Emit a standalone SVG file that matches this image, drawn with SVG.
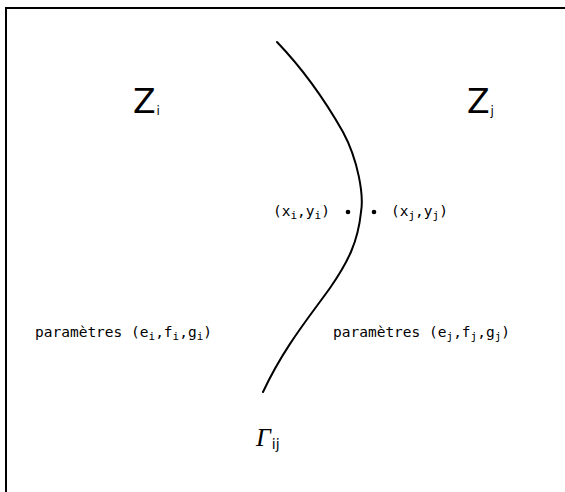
<svg xmlns="http://www.w3.org/2000/svg" width="565" height="492" viewBox="0 0 565 492">
<style>
.frame{fill:none;stroke:#000;stroke-width:2}
.curve{fill:none;stroke:#000;stroke-width:2;stroke-linecap:round;stroke-linejoin:round}
.big{font-family:"DejaVu Sans","Liberation Sans",sans-serif;font-size:33px;fill:#000}
.mono{font-family:"DejaVu Sans Mono","Liberation Mono",monospace;font-size:14.5px;fill:#000}
.sub{font-size:11px}
.gam{font-family:"Liberation Serif",serif;font-style:italic;font-size:26px;fill:#000}
.gsub{font-family:"DejaVu Sans",sans-serif;font-style:normal;font-size:14px}
</style>
<g id="frame"><path class="frame" d="M565,8 L6,8 L6,492"/></g>
<g id="connectors">
<path id="gamma-curve" class="curve" d="M277,42 C300,66 322,95 343,132 C358,160 364,195 361,212 C358,242 348,262 330,288 C310,316 284,347 263,392"/>
</g>
<g id="zone-i">
<text class="big" x="133" y="113">Z<tspan font-size="12" fill="#000" dx="1" dy="2">i</tspan></text>
<text class="mono" x="35" y="337">paramètres (e<tspan class="sub" dy="3">i</tspan><tspan dy="-3">,f</tspan><tspan class="sub" dy="3">i</tspan><tspan dy="-3">,g</tspan><tspan class="sub" dy="3">i</tspan><tspan dy="-3">)</tspan></text>
<text class="mono" x="273" y="216">(x<tspan class="sub" dy="3">i</tspan><tspan dy="-3">,y</tspan><tspan class="sub" dy="3">i</tspan><tspan dy="-3">)</tspan></text>
<circle cx="348" cy="212" r="2.3" fill="#000"/>
</g>
<g id="zone-j">
<text class="big" x="467" y="113">Z<tspan font-size="12" fill="#000" dx="1" dy="2">j</tspan></text>
<text class="mono" x="333" y="337">paramètres (e<tspan class="sub" dy="3">j</tspan><tspan dy="-3">,f</tspan><tspan class="sub" dy="3">j</tspan><tspan dy="-3">,g</tspan><tspan class="sub" dy="3">j</tspan><tspan dy="-3">)</tspan></text>
<text class="mono" x="391" y="216">(x<tspan class="sub" dy="3">j</tspan><tspan dy="-3">,y</tspan><tspan class="sub" dy="3">j</tspan><tspan dy="-3">)</tspan></text>
<circle cx="374" cy="212" r="2.3" fill="#000"/>
</g>
<g id="gamma-label">
<text class="gam" x="256" y="446">Γ<tspan class="gsub" dx="1" dy="3">ij</tspan></text>
</g>
</svg>
